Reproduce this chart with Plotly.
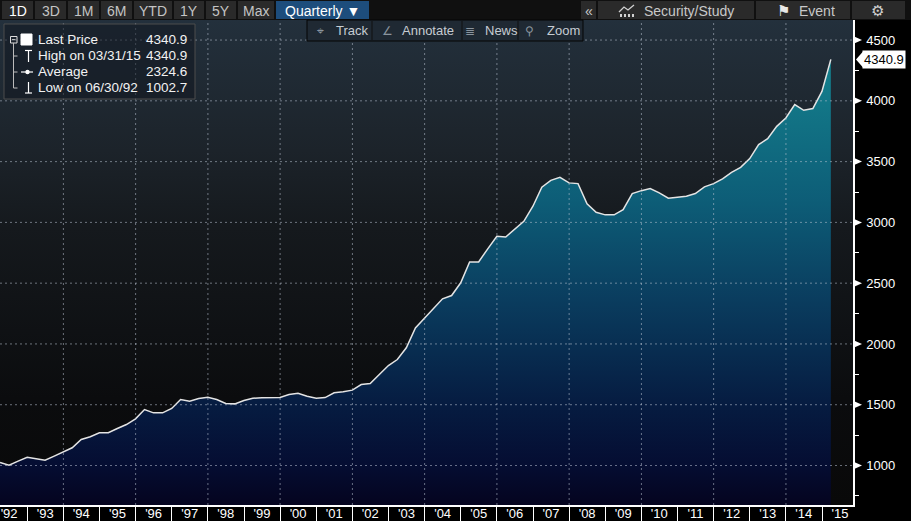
import base64
import plotly.graph_objects as go

# quarterly closes, 03/31/92 .. 03/31/15
quarter_ends = [f"{y}-{md}" for y in range(1992, 2016)
                for md in ("03-31", "06-30", "09-30", "12-31")][:93]

price = [1025, 1002.7, 1036, 1068, 1056, 1044, 1077, 1113, 1146, 1214,
         1236, 1269, 1269, 1304, 1337, 1384, 1460, 1433, 1433, 1469,
         1543, 1529, 1551, 1562, 1543, 1510, 1507, 1535, 1553, 1557,
         1557, 1560, 1584, 1595, 1570, 1553, 1559, 1598, 1606, 1620,
         1666, 1674, 1748, 1822, 1872, 1968, 2132, 2215, 2297, 2371,
         2398, 2503, 2675, 2675, 2782, 2886, 2880, 2941, 3009, 3133,
         3289, 3346, 3371, 3325, 3319, 3152, 3083, 3062, 3062, 3105,
         3237, 3261, 3278, 3243, 3199, 3207, 3215, 3237, 3292, 3319,
         3358, 3412, 3453, 3525, 3640, 3689, 3790, 3859, 3969, 3922,
         3936, 4078, 4340.9]

year_labels = ["'%02d" % (y % 100) for y in range(1992, 2016)]
year_mid = [f"{y}-07-01" for y in range(1992, 2016)]
grid_years = [f"{y}-01-01" for y in range(1994, 2016, 2)]
y_ticks = [1000, 1500, 2000, 2500, 3000, 3500, 4000, 4500]

legend_rows = [("Last Price", "4340.9"),
               ("High on 03/31/15", "4340.9"),
               ("Average", "2324.6"),
               ("Low on 06/30/92", "1002.7")]

range_buttons = ["1D", "3D", "1M", "6M", "YTD", "1Y", "5Y", "Max"]

FONT = "Liberation Sans, Arial, sans-serif"

# plot area in pixels: x 0..853, y 20..505
W, H = 853, 485


def fx(px):
    return px / W


def fy(py):
    return (505 - py) / H


def rect(x0, y0, x1, y1, fill, line="rgba(0,0,0,0)", lw=1):
    return dict(type="rect", xref="paper", yref="paper", layer="above",
                x0=fx(x0), x1=fx(x1), y0=fy(y0), y1=fy(y1),
                fillcolor=fill, line=dict(color=line, width=lw))


def seg(x0, y0, x1, y1, color, lw=1):
    return dict(type="line", xref="paper", yref="paper", layer="above",
                x0=fx(x0), x1=fx(x1), y0=fy(y0), y1=fy(y1),
                line=dict(color=color, width=lw))


def label(x, y, text, color="#c8c8c8", size=14, anchor="left"):
    return dict(xref="paper", yref="paper", x=fx(x), y=fy(y), text=text,
                showarrow=False, xanchor=anchor, yanchor="middle",
                font=dict(family=FONT, size=size, color=color))


fig = go.Figure()

fig.add_trace(go.Scatter(
    x=quarter_ends, y=price, mode="lines",
    line=dict(color="#e4e4e4", width=1.5),
    fill="tozeroy",
    fillgradient=dict(type="vertical", start=675, stop=4400,
                      colorscale=[[0, "#05041f"], [0.087, "#050d32"],
                                  [0.23, "#061d42"], [0.45, "#0a3c5e"],
                                  [0.67, "#0d5d77"], [1, "#15838f"]]),
    hoverinfo="skip", showlegend=False))

shapes = []

# dotted grid on top of the fill
for v in y_ticks:
    shapes.append(dict(type="line", xref="paper", yref="y", layer="above",
                       x0=0, x1=1, y0=v, y1=v,
                       line=dict(color="rgba(185,195,210,0.55)", width=1, dash="2px,3px")))
for d in grid_years:
    shapes.append(dict(type="line", xref="x", yref="paper", layer="above",
                       x0=d, x1=d, y0=0, y1=1,
                       line=dict(color="rgba(185,195,210,0.55)", width=1, dash="2px,3px")))

# arrow markers on the price axis
for v in y_ticks:
    shapes.append(dict(type="path", xref="paper", yref="y", layer="above",
                       xsizemode="pixel", ysizemode="pixel", xanchor=1, yanchor=v,
                       path="M 0 -4 L 9 0 L 0 4 Z", fillcolor="white",
                       line=dict(color="white", width=0)))

# last price pointer
shapes.append(dict(type="path", xref="paper", yref="y", layer="above",
                   xsizemode="pixel", ysizemode="pixel", xanchor=1, yanchor=price[-1],
                   path="M 3 0 L 10 -8 L 10 8 Z", fillcolor="white",
                   line=dict(color="white", width=0)))

# top toolbar
shapes.append(rect(0, 0, 911, 20, "#101010"))
btn_x = [(2, 33), (35, 66), (68, 99), (101, 132), (134, 172), (174, 204), (206, 236), (238, 274)]
for (x0, x1) in btn_x:
    shapes.append(rect(x0, 1, x1, 19, "#2a2a2a"))
shapes.append(rect(276, 1, 369, 19, "#1d4d7c"))
for (x0, x1) in [(581, 596), (598, 754), (756, 850), (852, 905)]:
    shapes.append(rect(x0, 1, x1, 19, "#2a2a2a"))
# little study icon
shapes.append(dict(type="path", xref="paper", yref="paper", layer="above",
                   path="M %f %f L %f %f L %f %f L %f %f" % (fx(619), fy(12), fx(624), fy(7),
                                                             fx(628), fy(10), fx(634), fy(5)),
                   line=dict(color="#d0d0d0", width=1.3)))
for bx in (620, 624, 628, 632):
    shapes.append(rect(bx, 14, bx + 2, 17, "#d0d0d0"))

# secondary toolbar
shapes.append(rect(307, 20, 583, 41, "#1f2933", "#050505", 1))
for sx in (372, 462, 518):
    shapes.append(seg(sx, 21, sx, 40, "#111", 1))

# legend box
shapes.append(rect(4, 24, 195, 99, "rgba(18,24,32,0.55)", "#4c4c4c", 1))
shapes.append(rect(10.5, 36.5, 17, 43, "rgba(0,0,0,0)", "#dddddd", 1))
shapes.append(seg(12, 39.7, 15.5, 39.7, "#dddddd", 1))
shapes.append(rect(21, 34, 32, 45, "white", "white", 1))
shapes.append(seg(13.5, 43, 13.5, 88, "#bbbbbb", 1))
for ry in (56, 72, 88):
    shapes.append(seg(13.5, ry, 17.5, ry, "#bbbbbb", 1))
shapes.append(seg(28.5, 50, 28.5, 62, "white", 1.2))
shapes.append(seg(25, 50.5, 32, 50.5, "white", 1.2))
shapes.append(seg(21, 72, 33, 72, "white", 1.2))
shapes.append(dict(type="circle", xref="paper", yref="paper", layer="above",
                   x0=fx(25.3), x1=fx(29.7), y0=fy(74.2), y1=fy(69.8),
                   fillcolor="white", line=dict(color="white", width=0)))
shapes.append(seg(28.5, 82, 28.5, 93, "white", 1.2))
shapes.append(seg(25, 93, 32, 93, "white", 1.2))

annotations = []
for txt, (x0, x1) in zip(range_buttons, btn_x):
    annotations.append(label((x0 + x1) / 2, 10.5, txt,
                             "#ffffff" if txt == "1D" else "#c4c4c4", 14, "center"))
annotations.append(label(322, 10.5, "Quarterly \u25bc", "#ffffff", 14, "center"))
annotations.append(label(589, 10.5, "\u00ab", "#c8c8c8", 14, "center"))
annotations.append(label(642, 10.5, "Security/Study", "#c8c8c8", 14))
annotations.append(label(783, 10.5, "\u2691", "#e8e8e8", 15, "center"))
annotations.append(label(797, 10.5, "Event", "#c8c8c8", 14))
annotations.append(label(877, 10.5, "\u2699", "#d0d0d0", 15, "center"))

tool_items = [(320, "\u2316", 334, "Track"), (387, "\u2220", 400, "Annotate"),
              (470, "\u2263", 483, "News"), (529, "\u26b2", 545, "Zoom")]
for ix, icon, tx, txt in tool_items:
    annotations.append(label(ix, 30.5, icon, "#8a949e", 12, "center"))
    annotations.append(label(tx, 30.5, txt, "#c6ccd2", 13))

for (name, val), ry in zip(legend_rows, (40, 56, 72, 88)):
    annotations.append(label(36, ry, name, "#f2f2f2", 13.5))
    annotations.append(label(189, ry, val, "#f2f2f2", 13.5, "right"))

annotations.append(dict(xref="paper", yref="y", x=1, y=price[-1], xshift=9,
                        text="4340.9", showarrow=False, xanchor="left", yanchor="middle",
                        bgcolor="white", borderpad=1,
                        font=dict(family=FONT, size=13, color="black")))

# background gradient behind the plot area
svg = ('<svg xmlns="http://www.w3.org/2000/svg" width="10" height="100" '
       'viewBox="0 0 10 100" preserveAspectRatio="none">'
       '<defs><linearGradient id="g" x1="0" y1="0" x2="0" y2="1">'
       '<stop offset="0" stop-color="#23303c"/>'
       '<stop offset="0.27" stop-color="#1c232a"/>'
       '<stop offset="0.43" stop-color="#15191d"/>'
       '<stop offset="0.78" stop-color="#0b0c0e"/>'
       '<stop offset="1" stop-color="#090909"/>'
       '</linearGradient></defs>'
       '<rect width="10" height="100" fill="url(#g)"/></svg>')
bg_src = "data:image/svg+xml;base64," + base64.b64encode(svg.encode()).decode()

fig.update_layout(
    width=911, height=521,
    margin=dict(l=0, r=58, t=20, b=16, autoexpand=False),
    paper_bgcolor="#000000",
    plot_bgcolor="#0c0e10",
    showlegend=False,
    images=[dict(source=bg_src, xref="paper", yref="paper", x=0, y=1,
                 sizex=1, sizey=1, xanchor="left", yanchor="top",
                 sizing="stretch", layer="below")],
    xaxis=dict(type="date", range=["1992-03-31", "2015-11-10"], automargin=False,
               tickmode="array", tickvals=year_mid, ticktext=year_labels,
               ticks="", ticklabelstandoff=-4, showgrid=False, zeroline=False,
               showline=True, linecolor="white", linewidth=1.5,
               tickfont=dict(family=FONT, size=13, color="white"),
               minor=dict(dtick="M12", tick0="1993-01-01", ticks="outside",
                          ticklen=16, tickcolor="white", tickwidth=1, showgrid=False)),
    yaxis=dict(side="right", range=[675, 4665], automargin=False,
               tickmode="array", tickvals=y_ticks,
               ticks="outside", ticklen=9, tickcolor="rgba(0,0,0,0)",
               showgrid=False, zeroline=False,
               showline=True, linecolor="white", linewidth=1.5,
               tickfont=dict(family=FONT, size=13, color="white"),
               minor=dict(dtick=250, tick0=0, ticks="outside", ticklen=4,
                          tickcolor="white", tickwidth=1, showgrid=False)),
    shapes=shapes,
    annotations=annotations,
)

# the page's default 8px body margin would shift the whole chart
fig.write_html("out.html", config={"displayModeBar": False},
               post_script="document.body.style.margin='0';"
                           "document.body.style.overflow='hidden';")
